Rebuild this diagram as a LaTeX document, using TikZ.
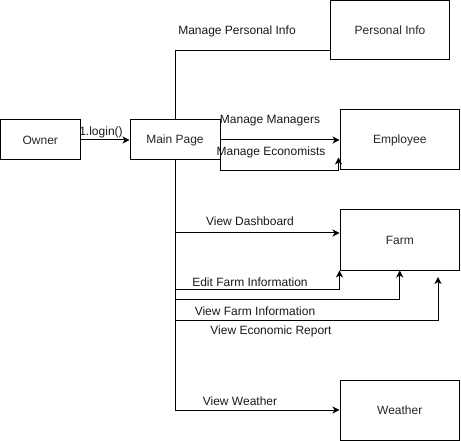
\documentclass[tikz,border=0pt]{standalone}
\usepackage{fontspec}
\setmainfont{Liberation Sans}
\usetikzlibrary{arrows.meta,calc}
\begin{document}
\begin{tikzpicture}[x=1pt,y=-1pt,
  box/.style={draw=black,line width=1pt,minimum width=#1,minimum height=60pt,inner sep=0pt,font=\fontsize{12}{14}\selectfont,text=black!85},
  box/.default=120pt,
  conn/.style={line width=1pt,draw=black},
  arr/.style={conn,-{Stealth[length=7pt,width=7pt,inset=2pt]}},
  lbl/.style={font=\fontsize{12}{14}\selectfont,inner sep=0pt,text=black!90}]
\useasboundingbox (0,0) rectangle (461,441);
% boxes
\node[box=79.5pt,minimum height=40pt] (owner) at (40.25,140) {Owner};
\node[box=90pt,minimum height=40pt] (main) at (175,140) {Main Page};
\node[box=119.5pt,minimum height=59.5pt] (pinfo) at (390,30.25) {Personal Info};
\node[box=119.5pt] (emp) at (399.75,140) {Employee};
\node[box=119.5pt] (farm) at (399.75,240) {Farm};
\node[box=119.5pt] (weather) at (399.75,410) {Weather};
% trunk coordinates
\coordinate (d1) at (175,233);
\coordinate (e1) at (175,289);
\coordinate (v1) at (175,299);
\coordinate (r1) at (175,320);
\coordinate (rtip) at (438,277);
\coordinate (ectip) at ($(emp.south west)+(-1,-13)$);
% connectors
\draw[arr] (owner.east) -- (main.west);
\draw[conn] (main.north) |- ($(pinfo.south west)+(0,-10)$);
\draw[arr] (main.east) -- (emp.west);
\draw[arr] (main.south east) |- ($(emp.south west)+(-1,0)$) -- (ectip);
\draw[arr] (main.south) |- (weather.west);
\draw[arr] (d1) -- (d1 -| farm.west);
\draw[arr] (e1) -| (farm.south west);
\draw[arr] (v1) -| (farm.south);
\draw[arr] (r1) -| (rtip);
% labels
\node[lbl] (l1) at (101,132) {1.login()};
\node[lbl] (l2) at (237,31) {Manage Personal Info};
\node[lbl] (l3) at (270,121) {Manage Managers};
\node[lbl] (l4) at (271,152) {Manage Economists};
\node[lbl] (l5) at (250,221) {View Dashboard};
\node[lbl] (l6) at (250,282) {Edit Farm Information};
\node[lbl] (l7) at (255,311) {View Farm Information};
\node[lbl] (l8) at (271,331) {View Economic Report};
\node[lbl] (l9) at (240,401) {View Weather};
\end{tikzpicture}
\end{document}
